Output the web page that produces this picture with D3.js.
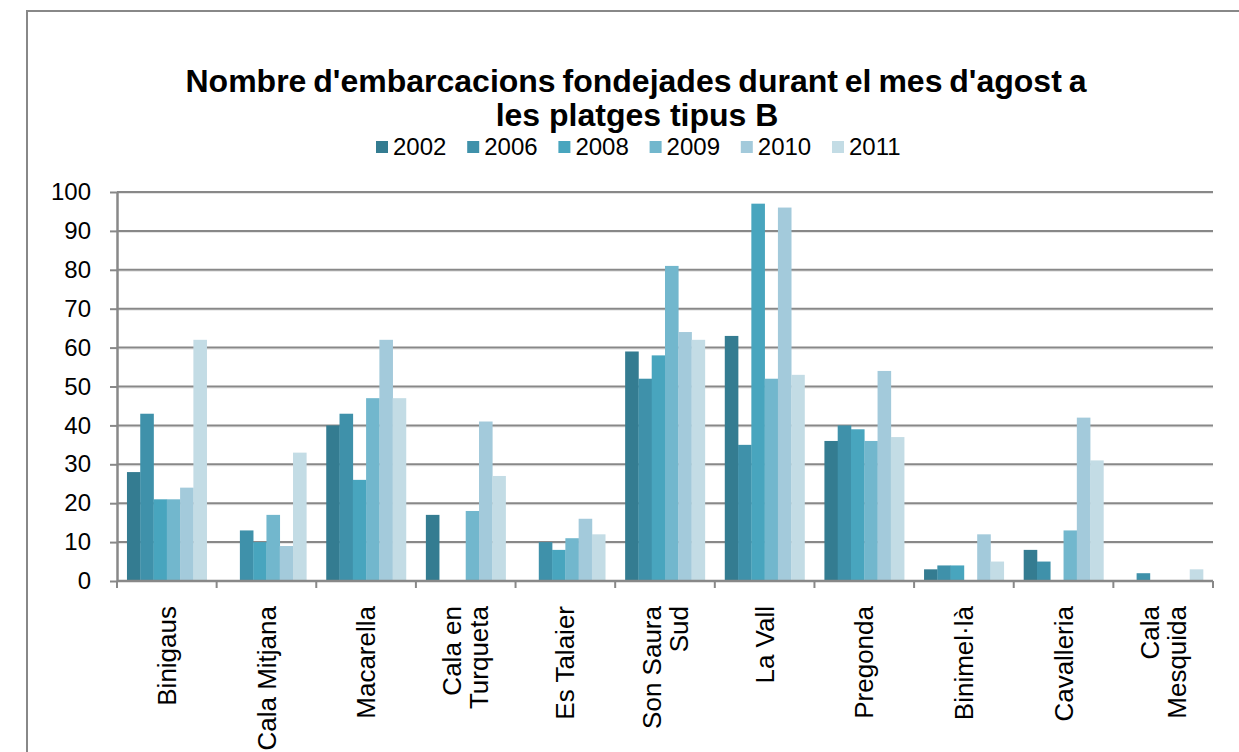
<!DOCTYPE html>
<html lang="ca">
<head>
<meta charset="UTF-8">
<title>Nombre d'embarcacions fondejades</title>
<script src="https://d3js.org/d3.v7.min.js"></script>
<style>
    body { margin: 0; background: #fff; }
    svg { display: block; font-family: Arial, "Liberation Sans", sans-serif; }
</style>
</head>
<body>
<svg width="1239" height="752"></svg>
<script>
    // dades llegides del gràfic
    const platges = ["Binigaus", "Cala Mitjana", "Macarella", "Cala en\nTurqueta", "Es Talaier",
        "Son Saura\nSud", "La Vall", "Pregonda", "Binimel·là", "Cavalleria", "Cala\nMesquida"];
    const anys = ["2002", "2006", "2008", "2009", "2010", "2011"];
    const v2002 = [28, 0, 40, 17, 0, 59, 63, 36, 3, 8, 0];
    const v2006 = [43, 13, 43, 0, 10, 52, 35, 40, 4, 5, 2];
    const v2008 = [21, 10, 26, 0, 8, 58, 97, 39, 4, 0, 0];
    const v2009 = [21, 17, 47, 18, 11, 81, 52, 36, 0, 13, 0];
    const v2010 = [24, 9, 62, 41, 16, 64, 96, 54, 12, 42, 0];
    const v2011 = [62, 33, 47, 27, 12, 62, 53, 37, 5, 31, 3];
    const yTicks = [0, 10, 20, 30, 40, 50, 60, 70, 80, 90, 100];
    const colors = ["#347C91", "#3F91AA", "#48A5BE", "#72B7CD", "#A3CADB", "#C3DCE5"];

    const series = [v2002, v2006, v2008, v2009, v2010, v2011];
    const rows = platges.map((p, i) => ({ platja: p, vals: series.map(s => s[i]) }));

    const svg = d3.select("svg");
    const grey = "#888";

    // marc del gràfic
    svg.append("rect")
        .attr("x", 27).attr("y", 11)
        .attr("width", 1230).attr("height", 760)
        .attr("fill", "none").attr("stroke", grey).attr("stroke-width", 2);

    // títol
    const title = svg.append("text")
        .attr("text-anchor", "middle")
        .attr("font-weight", "bold")
        .attr("font-size", 32)
        .attr("fill", "#000");
    title.append("tspan").attr("x", 636).attr("y", 92)
        .attr("word-spacing", -2)
        .text("Nombre d'embarcacions fondejades durant el mes d'agost a");
    title.append("tspan").attr("x", 637).attr("y", 126)
        .text("les platges tipus B");

    const plotL = 117, plotR = 1213, plotT = 192, plotB = 581;

    const x = d3.scaleBand().domain(platges).range([plotL, plotR]).paddingInner(0).paddingOuter(0);
    const x1 = d3.scaleBand().domain(anys).range([0, x.bandwidth()]).paddingOuter(0.75).paddingInner(0);
    const y = d3.scaleLinear().domain([0, 100]).range([plotB, plotT]);
    const color = d3.scaleOrdinal().domain(anys).range(colors);

    // graella
    const grid = svg.append("g");
    grid.selectAll("line.shadow")
        .data(yTicks.filter(t => t > 0))
        .join("line")
        .attr("class", "shadow")
        .attr("x1", plotL).attr("x2", plotR)
        .attr("y1", d => y(d) + 1.5).attr("y2", d => y(d) + 1.5)
        .attr("stroke", "#e4e4e4").attr("stroke-width", 1);
    grid.selectAll("line.major")
        .data(yTicks.filter(t => t > 0))
        .join("line")
        .attr("class", "major")
        .attr("x1", plotL).attr("x2", plotR)
        .attr("y1", d => y(d)).attr("y2", d => y(d))
        .attr("stroke", grey).attr("stroke-width", 2);

    // barres
    svg.append("g")
        .selectAll("g")
        .data(rows)
        .join("g")
        .attr("transform", d => `translate(${x(d.platja)},0)`)
        .selectAll("rect")
        .data(d => d.vals.map((v, k) => ({ any: anys[k], v })))
        .join("rect")
        .attr("x", d => x1(d.any))
        .attr("width", x1.bandwidth() + 0.3)
        .attr("y", d => y(d.v))
        .attr("height", d => plotB - y(d.v))
        .attr("fill", d => color(d.any));

    // eix Y
    const yAxis = svg.append("g")
        .attr("transform", `translate(${plotL},0)`)
        .call(d3.axisLeft(y).tickValues(yTicks).tickSize(7).tickPadding(19).tickSizeOuter(0));
    yAxis.select(".domain").attr("stroke", grey).attr("stroke-width", 2.5);
    yAxis.selectAll(".tick line").attr("stroke", grey).attr("stroke-width", 2);
    yAxis.selectAll("text").attr("font-size", 24).attr("fill", "#000")
        .attr("font-family", "Arial, 'Liberation Sans', sans-serif");

    // eix X
    const xTickPos = d3.range(platges.length + 1).map(i => plotL + i * x.bandwidth());
    svg.append("line")
        .attr("x1", plotL).attr("x2", plotR)
        .attr("y1", plotB).attr("y2", plotB)
        .attr("stroke", grey).attr("stroke-width", 2.5);
    svg.append("g")
        .selectAll("line")
        .data(xTickPos)
        .join("line")
        .attr("x1", d => d).attr("x2", d => d)
        .attr("y1", plotB).attr("y2", plotB + 7)
        .attr("stroke", grey).attr("stroke-width", 2);

    // etiquetes de categories (girades)
    const lineH = 27;
    const labels = svg.append("g")
        .selectAll("text")
        .data(platges)
        .join("text")
        .attr("transform", d => `translate(${x(d) + x.bandwidth() / 2},606) rotate(-90)`)
        .attr("text-anchor", "end")
        .attr("font-size", 26)
        .attr("fill", "#000");
    labels.each(function (d) {
        const parts = d.split("\n");
        const t = d3.select(this);
        parts.forEach((p, i) => {
            t.append("tspan")
                .attr("x", 0)
                .attr("y", (i - (parts.length - 1) / 2) * lineH)
                .attr("dy", "0.35em")
                .text(p);
        });
    });

    // llegenda
    const legend = svg.append("g").attr("transform", "translate(376,147)");
    const item = legend.selectAll("g")
        .data(anys)
        .join("g")
        .attr("transform", (d, i) => `translate(${i * 91.2},0)`);
    item.append("rect")
        .attr("x", 0).attr("y", -6)
        .attr("width", 12).attr("height", 12)
        .attr("fill", d => color(d));
    item.append("text")
        .attr("x", 17).attr("dy", "0.35em")
        .attr("font-size", 24)
        .attr("fill", "#000")
        .text(d => d);
</script>
</body>
</html>
